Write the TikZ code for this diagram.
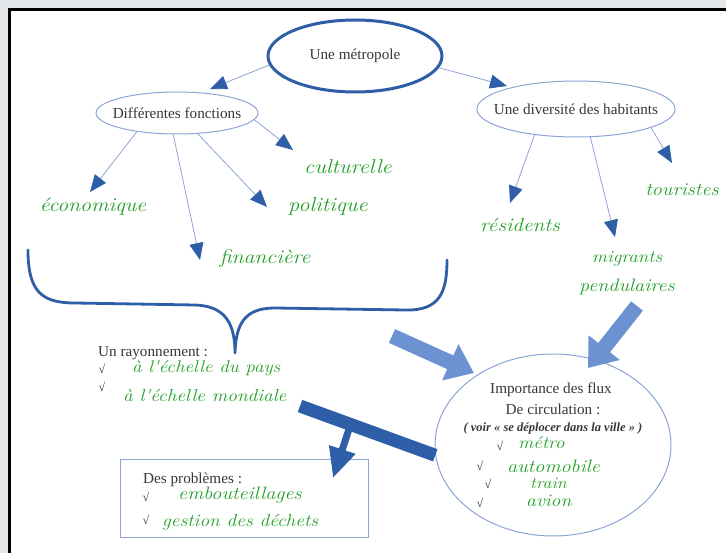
\documentclass[tikz,border=0pt]{standalone}
\usepackage{fontspec}
\setmainfont{Liberation Serif}
\newfontfamily\scr{Latin Modern Roman}[FakeStretch=1.12]
\usetikzlibrary{arrows.meta,shapes.geometric}
\definecolor{dblue}{RGB}{46,94,168}
\definecolor{lblue}{RGB}{140,165,212}
\definecolor{bblue}{RGB}{108,146,210}
\definecolor{grn}{RGB}{34,160,40}
\definecolor{txt}{RGB}{55,55,55}
\definecolor{bgc}{RGB}{228,232,235}
\newcommand{\fs}[1]{\fontsize{#1}{#1}\selectfont}
\tikzset{
  lbl/.style={inner sep=0pt, text=txt, font=\fs{15.2}},
  gtxt/.style={inner sep=0pt, text=grn},
  chk/.style={inner sep=0pt, text=txt, font=\fs{12}},
  conn/.style={draw=lblue, line width=0.8pt, -{Triangle[length=17pt,width=14pt,color=dblue]}},
  thinell/.style={ellipse, draw=lblue, line width=1pt, inner sep=0pt},
  blockarrow/.style={draw=bblue, line width=15pt, -{Triangle[length=26pt,width=38pt,color=bblue]}},
}
\begin{document}
\begin{tikzpicture}[x=1pt,y=-1pt]
\useasboundingbox (0,0) rectangle (726,553);
\fill[bgc] (0,0) rectangle (726,553);
\fill[white] (10,10) rectangle (726,553);
\draw[black, line width=3pt] (9.5,553) -- (9.5,9.5) -- (726,9.5);

% ellipses
\node[ellipse, draw=dblue, line width=3pt, inner sep=0pt, minimum width=174, minimum height=72] (metro) at (355,56) {};
\node[lbl] (metrot) at (metro) {Une métropole};
\node[thinell, minimum width=162, minimum height=42] (df) at (177,113) {};
\node[lbl] (dft) at (df) {Différentes fonctions};
\node[thinell, minimum width=198, minimum height=56] (udh) at (576,109) {};
\node[lbl] (udht) at (udh) {Une diversité des habitants};
\node[thinell, minimum width=236, minimum height=182] (flux) at (553,445) {};

% green labels top
\node[gtxt, font=\scr\itshape\fs{19.5}] (eco) at (93,207) {économique};
\node[gtxt, font=\scr\itshape\fs{19.5}] (fin) at (265,259) {financière};
\node[gtxt, font=\scr\itshape\fs{20}] (pol) at (328,207) {politique};
\node[gtxt, font=\scr\itshape\fs{20}] (cul) at (348,167) {culturelle};
\node[gtxt, font=\scr\itshape\fs{19}] (res) at (520,225) {résidents};
\node[gtxt, font=\scr\itshape\fs{18}] (tou) at (682,190) {touristes};
\node[gtxt, font=\scr\itshape\fs{17}] (mig) at (627,259) {migrants};
\node[gtxt, font=\scr\itshape\fs{18}] (pen) at (627,287) {pendulaires};

% arrow tips
\coordinate (tdf) at (210,89);
\coordinate (tudh) at (507,86);
\coordinate (teco) at (90,192);
\coordinate (tfin) at (200,260);
\coordinate (tpol) at (267,207);
\coordinate (tcul) at (293,150);
\coordinate (tres) at (510,203);
\coordinate (tmig) at (615,237);
\coordinate (ttou) at (672,163);

\draw[conn] (metro.186) -- (tdf);
\draw[conn] (metro.-8) -- (tudh);
\draw[conn] (df.205) -- (teco);
\draw[conn] (df.260) -- (tfin);
\draw[conn] (df.-45) -- (tpol);
\draw[conn] (df.-5) -- (tcul);
\draw[conn] (udh.212) -- (tres);
\draw[conn] (udh.-63) -- (tmig);
\draw[conn] (udh.-14) -- (ttou);

% brace
\draw[dblue, line width=2.8pt, line cap=round, line join=round]
  (28,250) .. controls (28,292) and (42,303) .. (75,303) -- (195,305)
  .. controls (224,306) and (235,322) .. (235,353)
  .. controls (236,322) and (246,308) .. (275,308) -- (405,310)
  .. controls (440,311) and (447,292) .. (447,260);

% rayonnement
\node[lbl, anchor=west] (ray) at (98,353) {Un rayonnement :};
\node[chk] (c1) at (102,369) {√};
\node[chk] (c2) at (102,387) {√};
\node[gtxt, anchor=west, font=\scr\itshape\fs{17}] (pays) at (132,368) {à l'échelle du pays};
\node[gtxt, anchor=west, font=\scr\itshape\fs{17.3}] (mond) at (123,395) {à l'échelle mondiale};

% problems box
\node[draw=lblue, line width=1pt, minimum width=248, minimum height=78, inner sep=0pt] (prob) at (244,498) {};
\node[lbl, anchor=west] (probt) at (143,480) {Des problèmes :};
\node[chk] (c3) at (146,497) {√};
\node[chk] (c4) at (146,520) {√};
\node[gtxt, anchor=west, font=\scr\itshape\fs{18}] (emb) at (178,495) {embouteillages};
\node[gtxt, anchor=west, font=\scr\itshape\fs{17.3}] (ges) at (162,522) {gestion des déchets};

% bar and stem arrow
\coordinate (bs) at (300,406);
\coordinate (bm) at (350,426);
\coordinate (tprob) at (333,478);
\draw[dblue, line width=13pt] (bs) -- (flux.185);
\draw[dblue, line width=7pt, -{Triangle[length=30pt,width=26pt,color=dblue]}] (bm) -- (tprob);

% block arrows
\coordinate (ba1) at (392,336);
\coordinate (tb1) at (474,373);
\coordinate (ba2) at (637,306);
\coordinate (tb2) at (588,368);
\draw[blockarrow] (ba1) -- (tb1);
\draw[blockarrow] (ba2) -- (tb2);

% flux texts
\node[lbl] (imp) at (551,390) {Importance des flux};
\node[lbl] (circ) at (553,409) {De circulation :};
\node[lbl, font=\bfseries\itshape\fs{12.5}] (voir) at (553,428) {( voir « se déplocer dans la ville » )};
\node[chk] (c5) at (500,446) {√};
\node[chk] (c6) at (480,466) {√};
\node[chk] (c7) at (488,484) {√};
\node[chk] (c8) at (480,503) {√};
\node[gtxt, anchor=west, font=\scr\itshape\fs{17}] (met) at (518,443) {métro};
\node[gtxt, anchor=west, font=\scr\itshape\fs{18}] (aut) at (507,466) {automobile};
\node[gtxt, anchor=west, font=\scr\itshape\fs{16}] (tra) at (530,483) {train};
\node[gtxt, anchor=west, font=\scr\itshape\fs{17.5}] (avi) at (526,501) {avion};
\end{tikzpicture}
\end{document}
